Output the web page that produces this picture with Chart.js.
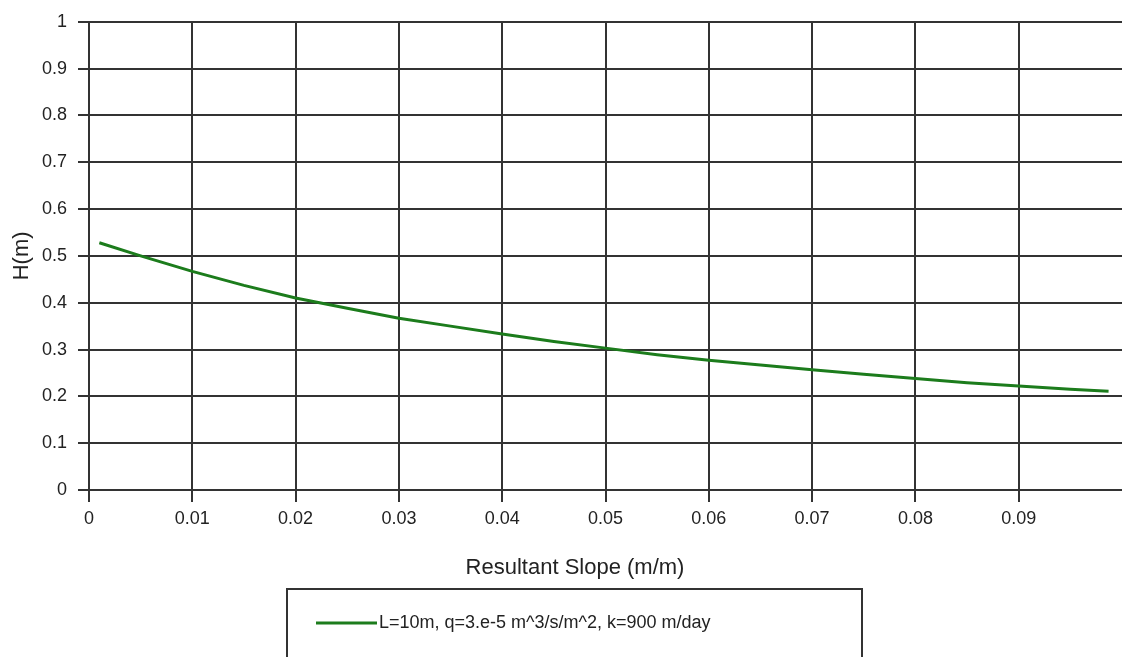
<!DOCTYPE html>
<html lang="en">
<head>
    <meta charset="UTF-8">
    <title>H vs Resultant Slope</title>
    <style>
        html, body {
            margin: 0;
            background: #ffffff;
            overflow: hidden;
            font-family: "Liberation Sans", Arial, sans-serif;
        }
        .chart-box {
            width: 1128px;
            height: 657px;
            position: relative;
        }
    </style>
</head>
<body>

<div class="chart-box">
    <canvas id="slopeChart"></canvas>
</div>

<script src="https://cdn.jsdelivr.net/npm/chart.js"></script>

<script>
    // values
    const slope = [0.001, 0.005, 0.01, 0.015, 0.02, 0.025, 0.03, 0.035, 0.04, 0.045, 0.05,
                   0.055, 0.06, 0.065, 0.07, 0.075, 0.08, 0.085, 0.09, 0.095, 0.0987];
    const headH = [0.528, 0.500, 0.467, 0.437, 0.410, 0.388, 0.367, 0.350, 0.333, 0.317, 0.303,
                   0.289, 0.277, 0.267, 0.257, 0.247, 0.238, 0.229, 0.222, 0.215, 0.211];
    const yTickLabels = ['0', '0.1', '0.2', '0.3', '0.4', '0.5', '0.6', '0.7', '0.8', '0.9', '1'];
    const xTickLabels = ['0', '0.01', '0.02', '0.03', '0.04', '0.05', '0.06', '0.07', '0.08', '0.09', ''];
    const seriesLabel = 'L=10m, q=3.e-5 m^3/s/m^2, k=900 m/day';
    const xTitle = 'Resultant Slope (m/m)';
    const yTitle = 'H(m)';

    const textColor = '#222';
    const gridColor = '#333';
    const lineColor = '#1c7c1c';

    // the 0.1 line sits on the cut-off edge in the original, so leave it out
    const xGridColor = (c) => (c.tick && c.tick.value > 0.0995) ? 'rgba(0,0,0,0)' : gridColor;

    // x title and boxed legend under the chart
    const bottomPlugin = {
        id: 'bottomBits',
        afterDraw(chart) {
            const ctx = chart.ctx;
            ctx.save();
            ctx.fillStyle = textColor;
            ctx.font = '22px "Liberation Sans", Arial, sans-serif';
            ctx.textAlign = 'center';
            ctx.textBaseline = 'middle';
            ctx.fillText(xTitle, 575, 568);

            // legend box
            ctx.strokeStyle = '#333';
            ctx.lineWidth = 2;
            ctx.strokeRect(287, 589, 575, 90);

            const ds = chart.data.datasets[0];
            ctx.strokeStyle = ds.borderColor;
            ctx.lineWidth = 3;
            ctx.beginPath();
            ctx.moveTo(316, 623);
            ctx.lineTo(377, 623);
            ctx.stroke();

            ctx.font = '18px "Liberation Sans", Arial, sans-serif';
            ctx.textAlign = 'left';
            ctx.fillText(ds.label, 379, 623);
            ctx.restore();
        }
    };

    const points = slope.map((s, i) => ({ x: s, y: headH[i] }));

    new Chart(document.getElementById('slopeChart').getContext('2d'), {
        type: 'line',
        data: {
            datasets: [{
                label: seriesLabel,
                data: points,
                borderColor: lineColor,
                borderWidth: 3,
                pointRadius: 0,
                fill: false,
                tension: 0
            }]
        },
        options: {
            responsive: true,
            maintainAspectRatio: false,
            animation: false,
            layout: {
                padding: { top: 17, right: 0, bottom: 117, left: 0 }
            },
            plugins: {
                legend: { display: false },
                tooltip: { enabled: false }
            },
            scales: {
                x: {
                    type: 'linear',
                    min: 0,
                    max: 0.1,
                    grid: { color: xGridColor, lineWidth: 2, tickLength: 12, tickColor: xGridColor },
                    border: { color: gridColor, width: 2 },
                    ticks: {
                        stepSize: 0.01,
                        autoSkip: false,
                        maxRotation: 0,
                        padding: 6,
                        color: textColor,
                        font: { size: 18, family: '"Liberation Sans", Arial, sans-serif' },
                        callback: (v, i) => xTickLabels[i] ?? ''
                    },
                    afterFit: (scale) => { scale.height = 50; }
                },
                y: {
                    min: 0,
                    max: 1,
                    grid: { color: gridColor, lineWidth: 2, tickLength: 11, tickColor: gridColor },
                    border: { color: gridColor, width: 2 },
                    ticks: {
                        stepSize: 0.1,
                        padding: 11,
                        color: textColor,
                        font: { size: 18, family: '"Liberation Sans", Arial, sans-serif' },
                        callback: (v, i) => yTickLabels[i] ?? ''
                    },
                    title: {
                        display: true,
                        text: yTitle,
                        color: textColor,
                        padding: { top: 9, bottom: 0 },
                        font: { size: 22, family: '"Liberation Sans", Arial, sans-serif' }
                    },
                    afterFit: (scale) => { scale.width = 89; }
                }
            }
        },
        plugins: [bottomPlugin]
    });
</script>

</body>
</html>
